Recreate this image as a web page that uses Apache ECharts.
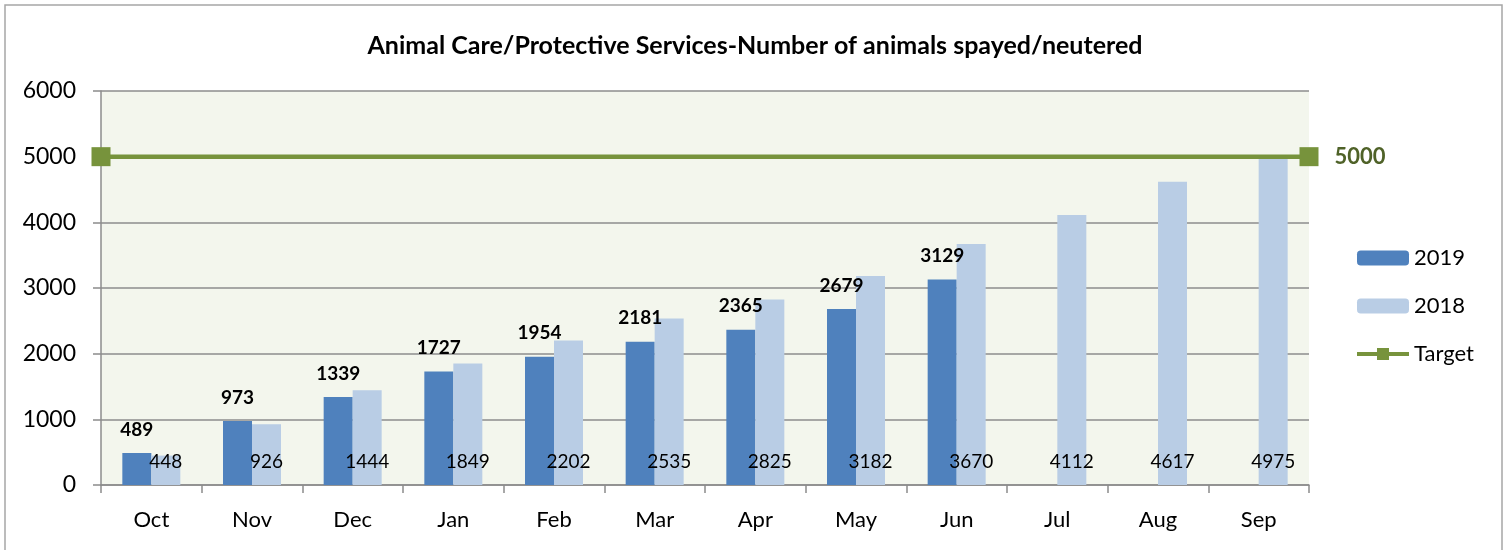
<!DOCTYPE html>
<html><head><meta charset="utf-8">
<script src="https://cdn.jsdelivr.net/npm/echarts@6/dist/echarts.min.js"></script>
<style>html,body{margin:0;padding:0;background:#fff}#c{width:1510px;height:550px}</style>
</head><body><div id="c"></div>
<script>
const categories = ['Oct','Nov','Dec','Jan','Feb','Mar','Apr','May','Jun','Jul','Aug','Sep'];
const values2019 = [489,973,1339,1727,1954,2181,2365,2679,3129,null,null,null];
const values2018 = [448,926,1444,1849,2202,2535,2825,3182,3670,4112,4617,4975];
const targetValue = 5000;
const targetEnds = ['start','end'];
const yTicks = {min:0, max:6000, interval:1000};

const FONT = 'Lato, "Open Sans", sans-serif';
const chart = echarts.init(document.getElementById('c'));
chart.setOption({
  animation:false,
  textStyle:{fontFamily:FONT},
  graphic:[{type:'rect',shape:{x:5,y:5,width:1497,height:600},style:{fill:'none',stroke:'#a6a6a6',lineWidth:1.5},silent:true}],
  title:{text:'Animal Care/Protective Services-Number of animals spayed/neutered',left:'center',top:28,
    textStyle:{fontFamily:FONT,fontSize:25,fontWeight:'bold',color:'#000'}},
  grid:{left:101,right:201,top:91,bottom:65,show:true,backgroundColor:'#f3f6ed',borderWidth:0},
  legend:{orient:'vertical',left:1350,top:242,itemWidth:52,itemHeight:15,itemGap:26,
    textStyle:{fontFamily:FONT,fontSize:22,color:'#000'},
    data:['2019','2018',{name:'Target',lineStyle:{width:4}}]},
  xAxis:[{type:'category',data:categories,boundaryGap:true,
    axisLine:{lineStyle:{color:'#8c8c8c',width:1.5}},
    axisTick:{show:true,length:8,lineStyle:{color:'#8c8c8c',width:1.5}},
    axisLabel:{fontFamily:FONT,fontSize:22,color:'#000',margin:24}},
   {type:'category',data:targetEnds,boundaryGap:false,show:false}],
  yAxis:{type:'value',min:yTicks.min,max:yTicks.max,interval:yTicks.interval,
    axisLine:{show:true,lineStyle:{color:'#8c8c8c',width:1.5}},
    axisTick:{show:true,length:8,lineStyle:{color:'#8c8c8c',width:1.5}},
    splitLine:{lineStyle:{color:'#8c8c8c',width:1.5}},
    axisLabel:{fontFamily:FONT,fontSize:23,color:'#000',margin:25,formatter:v=>String(v)}},
  series:[
    {name:'2019',type:'bar',data:values2019,barWidth:29,barGap:'0%',
     itemStyle:{color:'#4f81bd'},
     label:{show:true,position:'top',distance:14,fontFamily:FONT,fontSize:19,fontWeight:'bold',color:'#000'}},
    {name:'2018',type:'bar',data:values2018,barWidth:29,barGap:'0%',
     itemStyle:{color:'#b9cde5'},
     label:{show:true,position:'insideBottom',distance:14,fontFamily:FONT,fontSize:19,color:'#000'}},
    {name:'Target',type:'line',xAxisIndex:1,
     data:targetEnds.map((k,i)=> i===targetEnds.length-1
       ? {value:targetValue,label:{show:true,position:'right',distance:16,formatter:'{c}',fontFamily:FONT,fontSize:22,fontWeight:'bold',color:'#4f6228'}}
       : targetValue),
     symbol:'rect',symbolSize:19,lineStyle:{color:'#77933c',width:4.5},itemStyle:{color:'#77933c'},z:5}
  ]
});
</script></body></html>
